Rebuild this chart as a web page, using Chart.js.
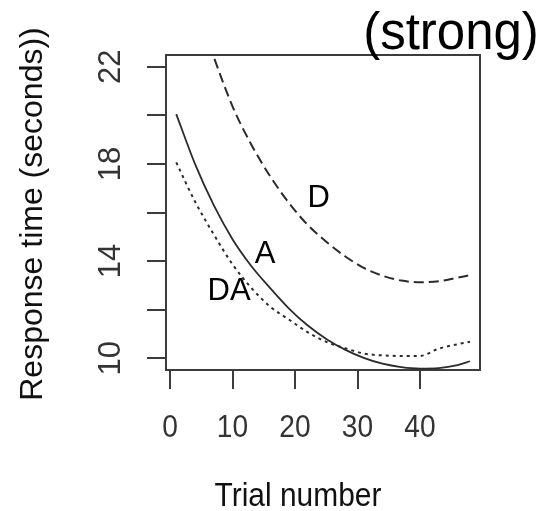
<!DOCTYPE html>
<html>
<head>
<meta charset="utf-8">
<script src="https://cdn.jsdelivr.net/npm/chart.js@4/dist/chart.umd.min.js"></script>
<style>
  html, body { margin: 0; padding: 0; background: #ffffff; }
  #c { display: block; }
</style>
</head>
<body>
<canvas id="c" width="539" height="511"></canvas>
<script>
// ---- data ----
const trials = [1, 4, 7, 10, 13, 16, 19, 22, 25, 28, 31, 34, 37, 40, 43, 46, 48];
const rtA  = [20.05, 18.0, 16.3, 14.9, 13.8, 12.9, 12.06, 11.36, 10.8, 10.36, 10.02, 9.78, 9.64, 9.58, 9.6, 9.72, 9.88];
const rtDA = [18.06, 16.45, 15.1, 13.87, 12.9, 12.13, 11.6, 11.08, 10.68, 10.42, 10.2, 10.12, 10.1, 10.1, 10.4, 10.58, 10.68];
const rtD  = [27.0, 24.6, 22.4, 20.37, 18.8, 17.5, 16.4, 15.5, 14.8, 14.2, 13.72, 13.4, 13.2, 13.13, 13.17, 13.32, 13.42];

const xTicks = [0, 10, 20, 30, 40];
const yTicks = [10, 12, 14, 16, 18, 20, 22];
const yTickLabels = [10, 14, 18, 22];

const curveLabels = ['D', 'A', 'DA'];
const labelAt = { D: [23.8, 16.24], A: [15.2, 13.94], DA: [9.45, 12.42] };

const titleText = '(strong)';
const xTitle = 'Trial number';
const yTitle = 'Response time (seconds))';

const pts = (vals) => trials.map((t, i) => ({ x: t, y: vals[i] }));

const FONT = '"Liberation Sans", Arial, Helvetica, sans-serif';
const INK = '#2b2b2b';

const rPlot = {
  id: 'rPlot',
  beforeDatasetsDraw(chart) {
    const { ctx, chartArea: ca } = chart;
    ctx.save();
    ctx.strokeStyle = '#3c3c3c';
    ctx.lineWidth = 2;
    ctx.strokeRect(ca.left, ca.top, ca.right - ca.left, ca.bottom - ca.top);
    ctx.restore();
  },
  afterDraw(chart) {
    const { ctx, scales: { x, y } } = chart;
    ctx.save();
    // x tick labels
    ctx.fillStyle = '#333333';
    ctx.textAlign = 'center';
    ctx.textBaseline = 'alphabetic';
    ctx.font = '32px ' + FONT;
    xTicks.forEach(v => {
      const px = x.getPixelForValue(v);
      ctx.save();
      ctx.translate(px, 437);
      ctx.scale(0.88, 1);
      ctx.fillText(String(v), 0, 0);
      ctx.restore();
    });
    // y tick labels (rotated)
    ctx.font = '31px ' + FONT;
    yTickLabels.forEach(v => {
      const py = y.getPixelForValue(v);
      ctx.save();
      ctx.translate(120, py);
      ctx.rotate(-Math.PI / 2);
      ctx.fillText(String(v), 0, 0);
      ctx.restore();
    });
    // axis titles
    ctx.fillStyle = '#111111';
    ctx.font = '34px ' + FONT;
    ctx.save();
    ctx.translate(298, 506);
    ctx.scale(0.88, 1);
    ctx.fillText(xTitle, 0, 0);
    ctx.restore();
    ctx.font = '32px ' + FONT;
    ctx.save();
    ctx.translate(42, 214);
    ctx.rotate(-Math.PI / 2);
    ctx.fillText(yTitle, 0, 0);
    ctx.restore();
    // curve labels
    ctx.fillStyle = '#000000';
    ctx.font = '31px ' + FONT;
    curveLabels.forEach(k => {
      const [lx, ly] = labelAt[k];
      ctx.fillText(k, x.getPixelForValue(lx), y.getPixelForValue(ly));
    });
    // title
    ctx.font = '51px ' + FONT;
    ctx.fillText(titleText, 451, 49);
    ctx.restore();
  }
};

const tickGrid = {
  display: true,
  drawOnChartArea: false,
  drawTicks: true,
  tickLength: 19,
  color: '#3c3c3c',
  lineWidth: 2
};

new Chart(document.getElementById('c'), {
  type: 'line',
  data: {
    datasets: [
      { label: 'A', data: pts(rtA), borderColor: INK, borderWidth: 1.8, borderDash: [], clip: 0 },
      { label: 'DA', data: pts(rtDA), borderColor: INK, borderWidth: 2, borderDash: [3, 4], clip: 0 },
      { label: 'D', data: pts(rtD), borderColor: INK, borderWidth: 2, borderDash: [10, 5], clip: 0 }
    ]
  },
  options: {
    responsive: false,
    animation: false,
    devicePixelRatio: 1,
    layout: { padding: { top: 55, right: 59, left: 0, bottom: 0 } },
    elements: {
      point: { radius: 0 },
      line: { tension: 0.4, cubicInterpolationMode: 'monotone', fill: false }
    },
    plugins: { legend: { display: false }, tooltip: { enabled: false }, title: { display: false } },
    scales: {
      x: {
        type: 'linear',
        position: 'bottom',
        min: -0.64,
        max: 49.6,
        grid: tickGrid,
        border: { display: false },
        ticks: { display: false },
        afterBuildTicks: (s) => { s.ticks = xTicks.map(v => ({ value: v })); },
        afterFit: (s) => { s.height = 141; }
      },
      y: {
        type: 'linear',
        position: 'left',
        min: 9.52,
        max: 22.48,
        grid: tickGrid,
        border: { display: false },
        ticks: { display: false },
        afterBuildTicks: (s) => { s.ticks = yTicks.map(v => ({ value: v })); },
        afterFit: (s) => { s.width = 166; }
      }
    }
  },
  plugins: [rPlot]
});
</script>
</body>
</html>
